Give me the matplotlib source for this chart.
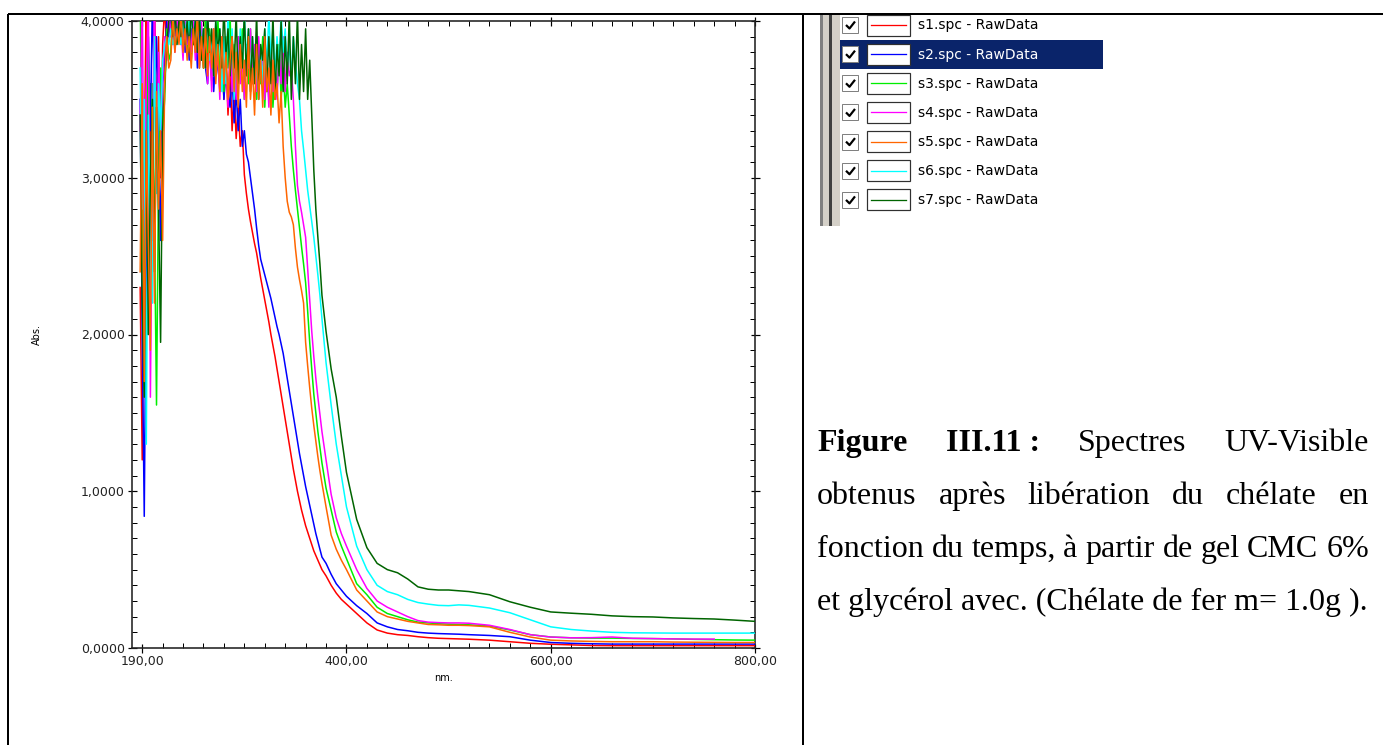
import numpy as np
import matplotlib
matplotlib.use('Agg')
import matplotlib.pyplot as plt
from matplotlib.patches import Rectangle
from matplotlib.ticker import MultipleLocator, FixedLocator

# wavelength grid (nm): 2 nm steps in the noisy UV part, coarser in the visible
wl_uv = [198, 200, 202, 204, 206, 208, 210, 212, 214, 216, 218, 220, 222, 224, 226,
         228, 230, 232, 234, 236, 238, 240, 242, 244, 246, 248, 250, 252, 254, 256,
         258, 260, 262, 264, 266, 268, 270, 272, 274, 276, 278, 280, 282, 284, 286,
         288, 290, 292, 294, 296, 298, 300, 302, 304, 306, 308, 310, 312, 314, 316,
         318, 320, 322, 324, 326, 328, 330, 332, 334, 336, 338, 340, 342, 344, 346,
         348, 350, 352, 354, 356, 358, 360, 362, 364, 366, 368, 370, 372, 374, 376]
wl_vis = [380, 385, 390, 395, 400, 410, 420, 430, 440, 450, 460, 470, 480, 490, 500,
          510, 520, 540, 560, 580, 600, 620, 640, 660, 680, 700, 720, 740, 760, 780, 800]

# absorbance, UV part then visible part
s1_uv = [2.3, 1.2, 3.1, 4.2, 2.0, 3.6, 2.6, 4.2, 3.3, 3.9, 3.0, 3.85, 4.1, 3.8, 4.05,
         3.9, 4.1, 3.85, 4.05, 3.9, 4.1, 3.8, 4.0, 3.88, 4.1, 3.8, 3.95, 3.85, 4.05, 3.75,
         3.95, 3.7, 4.0, 3.75, 3.9, 3.62, 3.95, 3.7, 3.85, 3.55, 3.8, 3.5, 3.75, 3.4, 3.7,
         3.3, 3.55, 3.25, 3.45, 3.2, 3.3, 3.02, 2.9, 2.8, 2.72, 2.65, 2.58, 2.52, 2.44, 2.36,
         2.29, 2.22, 2.15, 2.08, 2.0, 1.93, 1.86, 1.78, 1.7, 1.62, 1.54, 1.46, 1.38, 1.3, 1.22,
         1.14, 1.07, 1.0, 0.94, 0.88, 0.83, 0.78, 0.74, 0.7, 0.66, 0.62, 0.59, 0.56, 0.53, 0.5]
s1_vis = [0.46, 0.40, 0.35, 0.31, 0.28, 0.22, 0.16, 0.115, 0.095, 0.085, 0.08, 0.072, 0.066, 0.062, 0.06,
          0.058, 0.056, 0.05, 0.04, 0.03, 0.024, 0.02, 0.016, 0.015, 0.015, 0.015, 0.015, 0.015, 0.015, 0.015, 0.015]

s2_uv = [3.5, 2.0, 0.84, 2.5, 3.9, 3.3, 4.15, 3.5, 3.9, 3.2, 2.6, 3.6, 3.75, 4.0, 3.9,
         4.05, 3.85, 4.05, 3.9, 4.0, 3.85, 4.05, 3.8, 3.95, 3.75, 3.95, 3.85, 4.05, 3.7, 3.95,
         3.75, 3.95, 3.7, 3.6, 3.9, 3.8, 3.55, 3.8, 3.7, 3.6, 3.8, 3.5, 3.7, 3.55, 3.45,
         3.65, 3.35, 3.55, 3.3, 3.5, 3.2, 3.3, 3.15, 3.1, 3.0, 2.9, 2.8, 2.68, 2.57, 2.48,
         2.43, 2.38, 2.33, 2.28, 2.23, 2.17, 2.11, 2.05, 2.0, 1.94, 1.88, 1.8, 1.72, 1.64, 1.56,
         1.48, 1.4, 1.32, 1.24, 1.17, 1.1, 1.03, 0.97, 0.91, 0.85, 0.79, 0.73, 0.68, 0.63, 0.58]
s2_vis = [0.54, 0.47, 0.41, 0.37, 0.33, 0.27, 0.22, 0.16, 0.135, 0.118, 0.11, 0.1, 0.095, 0.092, 0.09,
          0.088, 0.085, 0.08, 0.072, 0.05, 0.035, 0.03, 0.027, 0.025, 0.025, 0.025, 0.025, 0.025, 0.025, 0.025, 0.025]

s3_uv = [4.2, 2.9, 1.9, 3.2, 3.9, 2.2, 3.6, 2.7, 1.55, 3.0, 3.7, 3.3, 3.5, 3.95, 3.75,
         3.8, 4.1, 3.85, 4.0, 3.9, 4.1, 3.85, 4.0, 3.8, 4.05, 3.75, 3.95, 3.8, 4.1, 3.7,
         3.95, 3.7, 4.05, 3.8, 3.95, 3.65, 3.9, 3.7, 4.05, 3.6, 3.85, 3.55, 3.9, 3.7, 4.05,
         3.55, 3.85, 3.6, 3.9, 3.7, 3.95, 3.5, 3.85, 3.6, 3.95, 3.65, 3.8, 3.5, 3.85, 3.6,
         3.9, 3.45, 3.75, 3.5, 3.8, 3.45, 3.7, 3.55, 3.85, 3.5, 3.7, 3.45, 3.6, 3.4, 3.2,
         3.05, 2.92, 2.8, 2.68, 2.56, 2.45, 2.33, 2.15, 1.95, 1.78, 1.62, 1.5, 1.38, 1.28, 1.18]
s3_vis = [1.02, 0.88, 0.74, 0.65, 0.57, 0.41, 0.34, 0.26, 0.22, 0.2, 0.18, 0.165, 0.16, 0.155, 0.152,
          0.15, 0.148, 0.14, 0.115, 0.085, 0.07, 0.065, 0.063, 0.063, 0.061, 0.06, 0.058, 0.055, 0.053, 0.051, 0.05]

s4_uv = [3.3, 4.2, 2.6, 3.6, 4.2, 1.6, 3.1, 4.2, 2.9, 3.8, 3.3, 3.6, 3.9, 3.75, 4.1,
         3.9, 4.0, 3.8, 4.05, 3.9, 3.95, 3.75, 4.1, 3.85, 3.95, 3.8, 4.05, 3.75, 3.9, 3.7,
         4.0, 3.75, 3.9, 3.6, 3.85, 3.55, 3.95, 3.65, 3.8, 3.5, 3.9, 3.6, 3.75, 3.45, 3.85,
         3.55, 3.8, 3.5, 3.9, 3.6, 3.75, 3.5, 3.8, 3.7, 3.95, 3.6, 3.85, 3.55, 3.9, 3.65,
         3.8, 3.5, 3.75, 3.45, 3.85, 3.55, 3.7, 3.5, 3.8, 3.6, 3.9, 3.55, 3.8, 3.65, 3.7,
         3.5, 3.2, 2.95, 2.85, 2.78, 2.7, 2.62, 2.42, 2.22, 2.02, 1.86, 1.72, 1.6, 1.49, 1.38]
s4_vis = [1.2, 0.98, 0.83, 0.73, 0.65, 0.5, 0.38, 0.3, 0.26, 0.23, 0.2, 0.175, 0.165, 0.162, 0.16,
          0.16, 0.158, 0.145, 0.118, 0.085, 0.07, 0.065, 0.066, 0.07, 0.062, 0.06, 0.058, 0.057, 0.057, np.nan, np.nan]

s5_uv = [2.4, 3.6, 1.7, 3.3, 2.6, 1.9, 3.45, 2.2, 3.55, 2.8, 3.3, 2.6, 3.6, 3.9, 3.7,
         3.75, 4.05, 3.8, 3.95, 3.85, 4.05, 3.8, 3.95, 3.75, 3.9, 3.7, 3.95, 3.8, 4.05, 3.7,
         3.9, 3.7, 3.95, 3.65, 3.9, 3.7, 3.95, 3.6, 3.85, 3.55, 3.9, 3.6, 3.8, 3.5, 3.75,
         3.9, 3.55, 3.8, 3.45, 3.85, 3.55, 3.75, 3.45, 3.9, 3.5, 3.7, 3.4, 3.85, 3.5, 3.75,
         3.45, 3.9, 3.55, 3.7, 3.4, 3.75, 3.5, 3.6, 3.35, 3.55, 3.2, 3.0, 2.85, 2.78, 2.75,
         2.7, 2.55, 2.43, 2.35, 2.28, 2.2, 1.95, 1.8, 1.66, 1.53, 1.42, 1.32, 1.22, 1.13, 1.05]
s5_vis = [0.9, 0.72, 0.63, 0.56, 0.5, 0.37, 0.3, 0.23, 0.2, 0.185, 0.17, 0.16, 0.15, 0.148, 0.145,
          0.145, 0.143, 0.135, 0.1, 0.07, 0.05, 0.045, 0.042, 0.04, 0.04, 0.04, 0.038, 0.037, 0.036, 0.035, 0.035]

s6_uv = [3.7, 2.8, 3.5, 1.3, 3.4, 2.5, 2.2, 3.9, 2.9, 3.6, 3.3, 3.75, 3.85, 3.9, 3.85,
         3.95, 3.85, 3.9, 3.85, 3.95, 3.85, 4.0, 3.88, 4.05, 3.9, 4.1, 3.85, 4.0, 3.9, 4.1,
         3.8, 3.95, 3.7, 4.05, 3.75, 3.9, 3.65, 4.0, 3.75, 3.95, 3.55, 3.9, 3.6, 4.05, 3.7,
         3.95, 3.5, 3.8, 3.6, 3.95, 3.7, 4.05, 3.75, 3.95, 3.6, 3.9, 3.65, 3.7, 3.5, 3.8,
         3.6, 3.95, 3.7, 4.05, 3.75, 3.95, 3.65, 3.9, 3.7, 4.05, 3.8, 3.95, 3.7, 3.85, 3.65,
         3.9, 3.75, 3.6, 3.5, 3.3, 3.18, 3.05, 2.92, 2.82, 2.72, 2.62, 2.5, 2.38, 2.25, 2.1]
s6_vis = [1.82, 1.55, 1.3, 1.1, 0.9, 0.65, 0.5, 0.4, 0.36, 0.34, 0.31, 0.29, 0.28, 0.272, 0.27,
          0.275, 0.272, 0.255, 0.225, 0.18, 0.135, 0.118, 0.108, 0.1, 0.097, 0.096, 0.095, 0.095, 0.095, 0.095, 0.095]

s7_uv = [3.4, 2.2, 1.6, 3.3, 2.0, 3.0, 3.5, 2.4, 3.45, 2.8, 1.95, 3.3, 3.6, 3.85, 4.0,
         4.05, 3.9, 4.1, 3.85, 4.0, 3.9, 4.1, 3.85, 4.0, 3.8, 4.1, 3.85, 4.0, 3.8, 4.05,
         3.75, 3.95, 3.7, 4.05, 3.8, 3.95, 3.65, 4.0, 3.8, 3.95, 3.7, 4.1, 3.75, 3.95, 3.65,
         3.9, 3.7, 4.05, 3.6, 3.9, 3.7, 4.05, 3.65, 3.95, 3.55, 3.9, 3.6, 4.05, 3.5, 3.85,
         3.75, 3.95, 3.55, 3.9, 3.6, 4.05, 3.5, 3.85, 3.65, 4.0, 3.55, 3.9, 3.6, 4.05, 3.5,
         3.9, 3.6, 4.05, 3.5, 3.85, 3.55, 3.95, 3.5, 3.75, 3.4, 3.05, 2.8, 2.62, 2.45, 2.25]
s7_vis = [2.02, 1.78, 1.6, 1.35, 1.12, 0.82, 0.64, 0.54, 0.5, 0.48, 0.44, 0.39, 0.375, 0.37, 0.37,
          0.365, 0.36, 0.34, 0.295, 0.26, 0.23, 0.222, 0.215, 0.205, 0.2, 0.198, 0.192, 0.188, 0.185, 0.178, 0.17]

spectra = [s1_uv + s1_vis, s2_uv + s2_vis, s3_uv + s3_vis, s4_uv + s4_vis,
           s5_uv + s5_vis, s6_uv + s6_vis, s7_uv + s7_vis]
wl = wl_uv + wl_vis
names = ['s1.spc - RawData', 's2.spc - RawData', 's3.spc - RawData', 's4.spc - RawData',
         's5.spc - RawData', 's6.spc - RawData', 's7.spc - RawData']
colors = ['#ff0000', '#0000ff', '#00ee00', '#ff00ff', '#ff6600', '#00ffff', '#006400']

xtick_pos = [200, 400, 600, 800]
xtick_labels = ['190,00', '400,00', '600,00', '800,00']
ytick_pos = [0, 1, 2, 3, 4]
ytick_labels = ['0,0000', '1,0000', '2,0000', '3,0000', '4,0000']

caption_lines = [
    [('Figure', True), ('III.11 :', True), ('Spectres', False), ('UV-Visible', False)],
    [('obtenus', False), ('après', False), ('libération', False), ('du', False),
     ('chélate', False), ('en', False)],
    [('fonction', False), ('du', False), ('temps,', False), ('à', False), ('partir', False),
     ('de', False), ('gel', False), ('CMC', False), ('6%', False)],
]
caption_last = 'et glycérol avec. (Chélate de fer m= 1.0g ).'

W, H = 1383, 745
PX = 72 / 100  # points per pixel at dpi 100


def justify(fig, ax, words, x0, x1, y, size):
    # place words so the line fills x0..x1 (justified paragraph)
    renderer = fig.canvas.get_renderer()
    texts = []
    for w, bold in words:
        t = ax.text(0, y, w, fontsize=size, family='Liberation Serif',
                    fontweight='bold' if bold else 'normal', va='baseline', ha='left')
        texts.append(t)
    widths = [t.get_window_extent(renderer).width for t in texts]
    gap = (x1 - x0 - sum(widths)) / (len(texts) - 1)
    x = x0
    for t, w in zip(texts, widths):
        t.set_x(x)
        x += w + gap


def draw_page(fig):
    # overlay in pixel coordinates for table borders, legend picture and caption
    ax0 = fig.add_axes([0, 0, 1, 1], zorder=0)
    ax0.set_xlim(0, W)
    ax0.set_ylim(H, 0)
    ax0.axis('off')

    # table borders
    ax0.plot([8, W], [14, 14], color='black', lw=2 * PX, solid_capstyle='butt')
    ax0.plot([8, 8], [14, H], color='black', lw=2 * PX, solid_capstyle='butt')
    ax0.plot([803, 803], [14, H], color='black', lw=2 * PX, solid_capstyle='butt')

    # legend screenshot
    ax0.add_patch(Rectangle((820, 15), 283, 211, facecolor='white', edgecolor='none'))
    ax0.add_patch(Rectangle((820, 15), 20, 211, facecolor='#d4d0c8', edgecolor='none'))
    ax0.add_patch(Rectangle((820, 15), 3, 211, facecolor='#808080', edgecolor='none'))
    ax0.add_patch(Rectangle((829, 15), 3, 211, facecolor='#404040', edgecolor='none'))
    ax0.add_patch(Rectangle((840, 40), 263, 29, facecolor='#0a246a', edgecolor='none'))
    for i, (name, col) in enumerate(zip(names, colors)):
        cy = 25 + 29.15 * i
        ax0.add_patch(Rectangle((842, cy - 8), 16, 16, facecolor='white',
                                edgecolor='#808080', lw=1 * PX))
        ax0.plot([846, 849.5, 855], [cy, cy + 3.5, cy - 3.5], color='black',
                 lw=2.2 * PX, solid_capstyle='butt')
        ax0.add_patch(Rectangle((867, cy - 10.5), 43, 21, facecolor='white',
                                edgecolor='#303030', lw=1.2 * PX))
        ax0.plot([871, 906], [cy, cy], color=col, lw=1.3 * PX)
        ax0.text(918, cy + 0.5, name, fontsize=10, family='DejaVu Sans',
                 color='white' if i == 1 else 'black', va='center', ha='left')

    # caption, justified like the Word paragraph
    baselines = [451, 504, 557, 610]
    for words, yb in zip(caption_lines, baselines):
        justify(fig, ax0, words, 817, 1369, yb, 23)
    ax0.text(817, baselines[3], caption_last, fontsize=23, family='Liberation Serif',
             va='baseline', ha='left')


def plot_spectra(fig):
    left, right, top, bottom = 132, 755, 21, 648
    ax = fig.add_axes([left / W, 1 - bottom / H, (right - left) / W, (bottom - top) / H],
                      zorder=2)
    for i, (y, col) in enumerate(zip(spectra, colors)):
        assert len(y) == len(wl)
        ax.plot(wl, y, color=col, lw=1.1, zorder=4 if i == 4 else 3)

    ax.set_xlim(190, 800)
    ax.set_ylim(0, 4)
    ax.xaxis.set_major_locator(FixedLocator(xtick_pos))
    ax.set_xticklabels(xtick_labels)
    ax.xaxis.set_minor_locator(MultipleLocator(20))
    ax.set_yticks(ytick_pos)
    ax.set_yticklabels(ytick_labels)
    ax.yaxis.set_minor_locator(MultipleLocator(0.1))

    ax.tick_params(which='major', direction='inout', length=9 * PX, width=1.2 * PX,
                   top=True, right=True, labelsize=9, labelcolor='#222222', pad=2)
    ax.tick_params(which='minor', direction='in', length=5 * PX, width=1 * PX,
                   top=True, right=True)
    for sp in ax.spines.values():
        sp.set_linewidth(1.6 * PX)
        sp.set_color('#222222')

    ax.set_xlabel('nm.', fontsize=7)
    ax.set_ylabel('Abs.', fontsize=7)
    ax.xaxis.set_label_coords(0.5, -(678 - bottom) / (bottom - top))
    ax.yaxis.set_label_coords(-(left - 37) / (right - left), 0.5)
    ax.xaxis.label.set_va('center')
    ax.yaxis.label.set_va('center')


if __name__ == "__main__":
    fig = plt.figure(figsize=(W / 100, H / 100), dpi=100)
    fig.patch.set_facecolor('white')
    draw_page(fig)
    plot_spectra(fig)
    fig.savefig('out.png', dpi=100)
